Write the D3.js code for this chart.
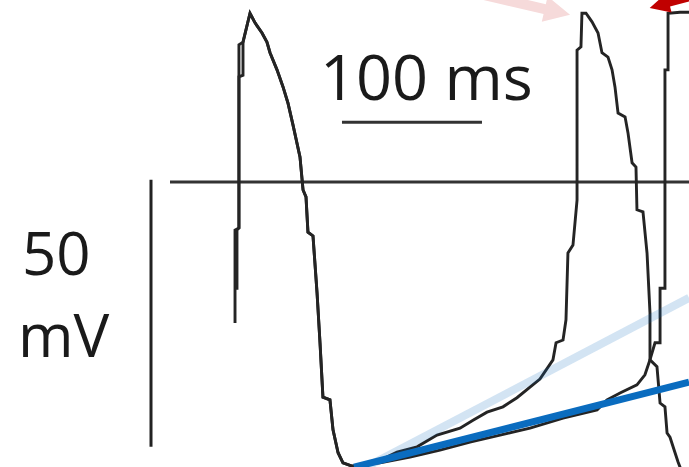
<!DOCTYPE html>
<html>
<head>
<meta charset="utf-8">
<script src="https://cdn.jsdelivr.net/npm/d3@7"></script>
<style>
  html, body { margin: 0; padding: 0; background: #fff; overflow: hidden; }
  svg { display: block; }
</style>
</head>
<body>
<svg id="chart" width="689" height="467"></svg>
<script>
// Pacemaker action potentials, two overlaid recordings (time in ms, voltage in mV)

// Upstroke of the first action potential, slightly different in each recording
const upstrokeFastTime    = [-0.7, -0.7, 2.1, 2.1, 5.0, 10.0];
const upstrokeFastVoltage = [-26.4, -9.0, -8.6, 25.7, 26.2, 31.6];
const upstrokeSlowTime    = [0.7, 0.7, 2.1, 2.1, 5.0, 5.0, 10.0];
const upstrokeSlowVoltage = [-20.2, -9.0, -8.6, 19.7, 20.0, 26.2, 31.6];

// Repolarisation of the first action potential (common to both recordings)
const repolTime    = [13.6, 18.6, 22.1, 24.3, 29.3, 33.6, 37.1, 40.7, 45.7, 47.9, 50.0, 51.4, 55.0, 57.9, 60.0, 62.1, 67.1, 69.3, 72.9, 76.4, 82.9];
const repolVoltage = [29.8, 27.9, 26.2, 24.2, 21.0, 17.8, 14.8, 10.7, 4.7, -1.5, -2.8, -9.4, -10.1, -20.8, -30.1, -40.3, -40.8, -46.4, -50.7, -52.6, -53.2];

// Fast diastolic depolarisation, second action potential and its repolarisation
const fastTime    = [102.9, 115.0, 129.3, 143.6, 160.0, 169.3, 179.3, 190.7, 200.7, 210.0, 217.1, 226.4, 228.6, 233.6, 235.7, 237.1, 240.7, 243.6, 243.6, 246.4, 247.1, 250.0, 254.3, 258.6, 261.4, 265.7, 268.6, 270.7, 272.9, 277.9, 280.0, 282.9, 285.7, 286.4, 290.7, 293.6, 295.7, 295.7, 300.7, 302.9, 306.4, 307.9, 310.0, 313.6, 315.7, 317.9];
const fastVoltage = [-52.1, -50.6, -49.6, -47.4, -46.1, -44.6, -43.1, -42.1, -40.4, -38.4, -36.9, -33.3, -30.1, -29.6, -25.8, -13.3, -11.8, -3.4, 24.7, 25.3, 31.6, 31.6, 30.0, 27.9, 24.2, 23.4, 21.0, 17.8, 12.9, 12.2, 9.2, 3.6, 2.8, -5.2, -5.6, -13.3, -24.5, -33.3, -34.6, -41.4, -42.1, -47.0, -47.8, -50.7, -52.4, -53.9];

// Slow diastolic depolarisation and the next upstroke
const slowTime    = [102.9, 124.3, 145.7, 167.1, 188.6, 210.0, 233.6, 257.9, 265.0, 274.3, 286.4, 292.1, 295.7, 299.3, 302.9, 302.9, 306.4, 306.4, 308.6, 308.6, 317.1, 325.7];
const slowVoltage = [-52.6, -51.5, -50.2, -48.7, -47.4, -46.1, -44.2, -42.7, -40.8, -39.5, -38.0, -36.1, -33.3, -30.1, -30.1, -19.9, -19.9, 21.0, 21.0, 31.6, 31.8, 31.8];

// Diastolic slope guides
const fastSlopeTime    = [92.9, 323.6];
const fastSlopeVoltage = [-53.4, -21.7];
const slowSlopeTime    = [84.3, 323.6];
const slowSlopeVoltage = [-53.4, -37.5];

// Scale bars
const timeBarMs = 100;
const voltageBarMv = 50;
const timeBarLabel = "100 ms";
const voltageBarLabel = ["50", "mV"];

const W = 689, H = 467;
const svg = d3.select("#chart");

// 1.4 px per ms, 5.34 px per mV
const x = d3.scaleLinear().domain([0, 100]).range([236, 376]);
const y = d3.scaleLinear().domain([0, 50]).range([182, 182 - 267]);

const zip = (ts, vs) => ts.map((t, i) => [t, vs[i]]);
const line = d3.line().x(d => x(d[0])).y(d => y(d[1]));

const fastTrace = zip(upstrokeFastTime, upstrokeFastVoltage)
  .concat(zip(repolTime, repolVoltage), zip(fastTime, fastVoltage));
const slowTrace = zip(upstrokeSlowTime, upstrokeSlowVoltage)
  .concat(zip(repolTime, repolVoltage), zip(slowTime, slowVoltage));

// zero-potential reference line
svg.append("line")
  .attr("x1", 170).attr("x2", W)
  .attr("y1", y(0)).attr("y2", y(0))
  .attr("stroke", "#333").attr("stroke-width", 3);

// voltage scale bar
svg.append("line")
  .attr("x1", 151).attr("x2", 151)
  .attr("y1", y(0.4)).attr("y2", y(0.4 - voltageBarMv))
  .attr("stroke", "#222").attr("stroke-width", 3);

// time scale bar
const barStart = 75.7, barLevel = 11.2;
svg.append("line")
  .attr("x1", x(barStart)).attr("x2", x(barStart + timeBarMs))
  .attr("y1", y(barLevel)).attr("y2", y(barLevel))
  .attr("stroke", "#333").attr("stroke-width", 3);

const font = "'Open Sans', 'Noto Sans', sans-serif";
svg.append("text")
  .attr("x", 320).attr("y", 100)
  .attr("font-family", font).attr("font-size", 63)
  .attr("fill", "#1a1a1a")
  .text(timeBarLabel);

// voltage label on two lines
svg.append("text")
  .attr("x", 22).attr("y", 275)
  .attr("font-family", font).attr("font-size", 60)
  .attr("fill", "#1a1a1a")
  .text(voltageBarLabel[0]);
svg.append("text")
  .attr("x", 18).attr("y", 357)
  .attr("font-family", font).attr("font-size", 60)
  .attr("fill", "#1a1a1a")
  .text(voltageBarLabel[1]);

// recordings
[slowTrace, fastTrace].forEach(tr => {
  svg.append("path")
    .attr("d", line(tr))
    .attr("fill", "none")
    .attr("stroke", "#242424")
    .attr("stroke-width", 2.9)
    .attr("stroke-linejoin", "miter");
});

// slope guides
svg.append("path")
  .attr("d", line(zip(fastSlopeTime, fastSlopeVoltage)))
  .attr("stroke", "#0a6cbf").attr("stroke-opacity", 0.18)
  .attr("stroke-width", 8).attr("fill", "none");
svg.append("path")
  .attr("d", line(zip(slowSlopeTime, slowSlopeVoltage)))
  .attr("stroke", "#0a6cbf")
  .attr("stroke-width", 7).attr("fill", "none");

// annotation arrows
function arrow(tipT, tipV, angleDeg, headLen, headHalf, shaftHalf, shaftLen, color) {
  const tx = x(tipT), ty = y(tipV);
  const a = angleDeg * Math.PI / 180;
  const dx = Math.cos(a), dy = Math.sin(a);
  const nx = -dy, ny = dx;
  const bx = tx - dx * headLen, by = ty - dy * headLen;
  const ex = bx - dx * shaftLen, ey = by - dy * shaftLen;
  const pts = [
    [tx, ty],
    [bx + nx * headHalf, by + ny * headHalf],
    [bx + nx * shaftHalf, by + ny * shaftHalf],
    [ex + nx * shaftHalf, ey + ny * shaftHalf],
    [ex - nx * shaftHalf, ey - ny * shaftHalf],
    [bx - nx * shaftHalf, by - ny * shaftHalf],
    [bx - nx * headHalf, by - ny * headHalf]
  ];
  svg.append("polygon")
    .attr("points", pts.map(p => p.join(",")).join(" "))
    .attr("fill", color);
}
arrow(238.6, 31.3, 13, 26, 13, 5, 80, "#f6dada");
arrow(295.5, 32.6, 165, 20, 10, 4, 40, "#c00000");
</script>
</body>
</html>
